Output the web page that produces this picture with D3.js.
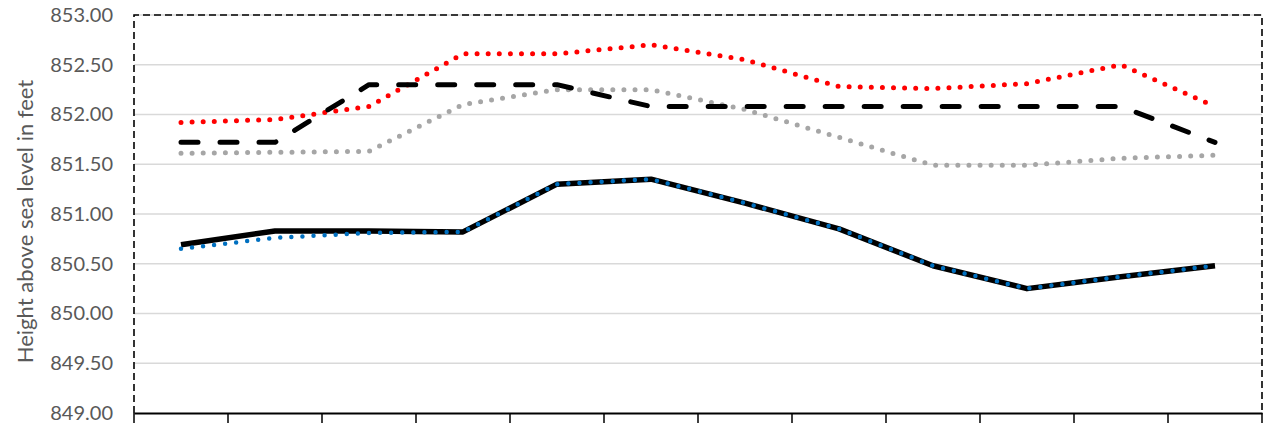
<!DOCTYPE html>
<html>
<head>
<meta charset="utf-8">
<script src="https://cdn.jsdelivr.net/npm/d3@7"></script>
<style>
  html, body { margin: 0; padding: 0; background: #fff; overflow: hidden; }
  svg { display: block; }
</style>
</head>
<body>
<div id="chart"></div>
<script>
// ---- data ----
const categories = [1, 2, 3, 4, 5, 6, 7, 8, 9, 10, 11, 12];
const yTicks = [849.0, 849.5, 850.0, 850.5, 851.0, 851.5, 852.0, 852.5, 853.0];
const redDotted   = [851.92, 851.95, 852.08, 852.61, 852.61, 852.70, 852.55, 852.28, 852.26, 852.31, 852.50, 852.08];
const blackDashed = [851.72, 851.72, 852.30, 852.30, 852.30, 852.08, 852.08, 852.08, 852.08, 852.08, 852.08, 851.72];
const grayDotted  = [851.61, 851.62, 851.63, 852.10, 852.25, 852.25, 852.05, 851.77, 851.49, 851.49, 851.56, 851.59];
const blackSolid  = [850.69, 850.83, 850.83, 850.82, 851.30, 851.35, 851.11, 850.85, 850.48, 850.25, 850.37, 850.48];
const blueDotted  = [850.65, 850.76, 850.81, 850.82, 851.30, 851.35, 851.11, 850.85, 850.48, 850.25, 850.37, 850.48];
const yTitle = "Height above sea level in feet";

// ---- layout ----
const W = 1264, H = 423;
const mLeft = 134, mRight = 1262, mTop = 15, mBottom = 413;

const svg = d3.select("#chart").append("svg")
  .attr("width", W).attr("height", H);

const x = d3.scaleBand().domain(categories).range([mLeft, mRight]).padding(0);
const y = d3.scaleLinear().domain([849, 853]).range([mBottom, mTop]);
const cx = d => x(d) + x.bandwidth() / 2;

// gridlines
svg.append("g").selectAll("line").data(yTicks.filter(t => t > 849)).join("line")
  .attr("x1", mLeft).attr("x2", mRight)
  .attr("y1", d => y(d)).attr("y2", d => y(d))
  .attr("stroke", "#d9d9d9").attr("stroke-width", 1.5);

// y axis labels
const yAxis = d3.axisLeft(y).tickValues(yTicks).tickFormat(d3.format(".2f")).tickSize(0).tickPadding(21);
const gy = svg.append("g").attr("transform", `translate(${mLeft},0)`).call(yAxis);
gy.select(".domain").remove();
gy.selectAll("text")
  .attr("fill", "#595959")
  .style("font-family", "Lato, 'Open Sans', sans-serif")
  .style("font-size", "20px");

// y title
svg.append("text")
  .attr("transform", `translate(33, ${(75 + 368) / 2}) rotate(-90)`)
  .attr("text-anchor", "middle")
  .attr("fill", "#595959")
  .style("font-family", "Lato, 'Open Sans', sans-serif")
  .style("font-size", "22px")
  .text(yTitle);

// dashed frame (left, top, right)
svg.append("path")
  .attr("d", `M${mLeft},${mBottom} V${mTop} H${mRight} V${mBottom}`)
  .attr("fill", "none")
  .attr("stroke", "#000")
  .attr("stroke-width", 1.6)
  .attr("stroke-dasharray", "7,4");

// x axis line + ticks
const xAxis = d3.axisBottom(x).tickSize(0).tickFormat("");
const gx = svg.append("g").attr("transform", `translate(0,${mBottom})`).call(xAxis);
gx.select(".domain").attr("stroke", "#000").attr("stroke-width", 1.8);
gx.selectAll(".tick").remove();
const edges = categories.map(c => x(c)).concat([mRight]);
svg.append("g").selectAll("line").data(edges).join("line")
  .attr("x1", d => d).attr("x2", d => d)
  .attr("y1", mBottom).attr("y2", H)
  .attr("stroke", "#000").attr("stroke-width", 1.5);

// lines
const lineGen = d3.line().x((d, i) => cx(categories[i])).y(d => y(d));

function draw(data, color, width, dash, cap) {
  svg.append("path")
    .datum(data)
    .attr("d", lineGen)
    .attr("fill", "none")
    .attr("stroke", color)
    .attr("stroke-width", width)
    .attr("stroke-linejoin", "round")
    .attr("stroke-linecap", cap)
    .attr("stroke-dasharray", dash);
}

draw(grayDotted, "#a6a6a6", 5, "0,11.1", "round");
draw(redDotted, "#ff0000", 5, "0,11.1", "round");
draw(blackDashed, "#000000", 5, "17,22", "round");
draw(blackSolid, "#000000", 5.5, null, "butt");
draw(blueDotted, "#0070c0", 4.5, "0,11.1", "round");
</script>
</body>
</html>
